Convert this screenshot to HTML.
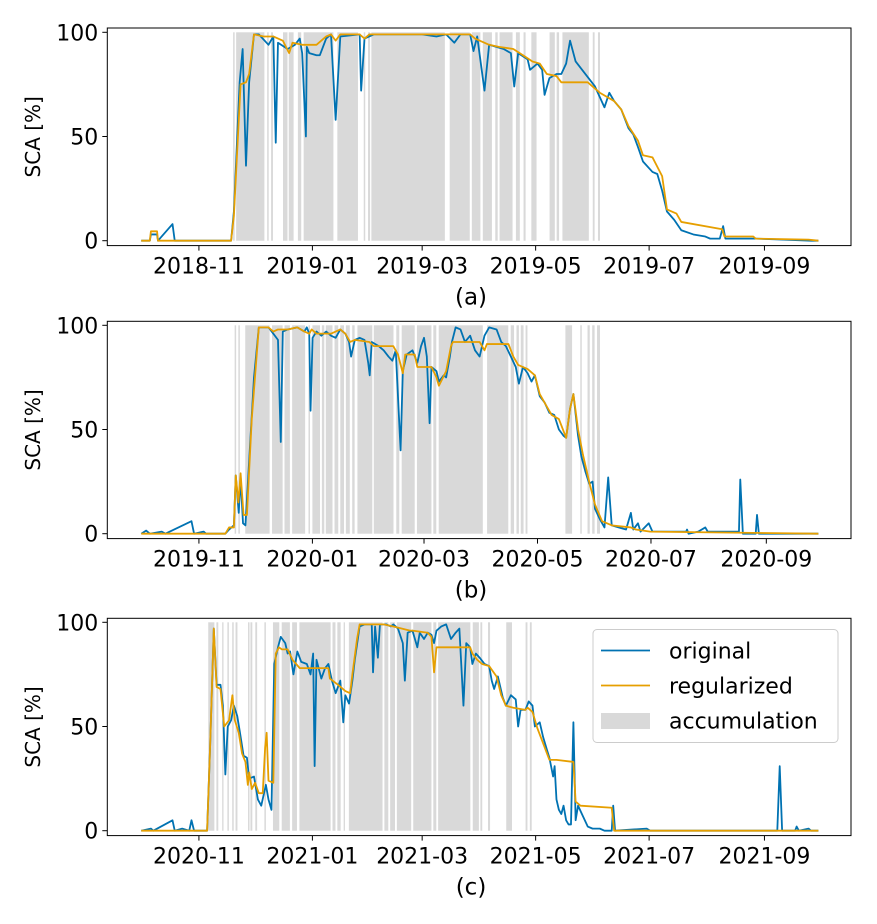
<!DOCTYPE html>
<html><head><meta charset="utf-8">
<style>
html,body{margin:0;padding:0;background:#fff;}
svg{display:block;font-family:"DejaVu Sans","Liberation Sans",sans-serif;}
</style></head>
<body>
<svg id="chart" width="877" height="924" viewBox="0 0 877 924" xmlns="http://www.w3.org/2000/svg"></svg>
<script>
// ---------- data (day offsets from Oct 1 of each season, SCA %) ----------
const seasonStartsA = ["2018-10-01"];
const seasonStartsB = ["2019-10-01"];
const seasonStartsC = ["2020-10-01"];
const panelCaptions = ["(a)","(b)","(c)"];
const yTickValues = [0,50,100];
const xTickMonths = [11,1,3,5,7,9];

const origDaysA = [0,4.6,5.2,8.5,9,16.8,18,48.3,49.8,52.9,54.5,56.3,58,60.6,63.2,68.4,71,72.3,73.5,78.7,82.6,85.2,86.5,88.5,89,90.3,94.2,96,99.4,102,104.5,107,117.4,118.2,120,125,135.5,150.9,158.7,163.9,168.3,171.6,176.8,178.6,180.6,184.5,187,194.8,198.7,200.5,202.6,207.7,209,213,215.5,216.8,219.4,223.2,225.8,228.4,230.5,233.5,238.7,243.9,249,251.6,254.2,258,261.9,264.5,267,269.7,274.8,277.4,280,282.6,286.5,290.3,296.8,303.2,305.8,311,312.8,314,329,330.3,345,360,364];
const origValsA = [0,0,3,3,0,8,0,0,14,76,92,36,76,99,99,94,98,47,95,92,94,97,90,50,93,90,89,89,97,99,58,98,99,72,97,99,99,99,98,99,95,99,99,91,98,72,94,92,90,74,90,87,82,85,82,70,78,80,80,85,96,86,80,74,64,71,67,63,54,51,45,38,33,32,24,14,10,5,3,2,1,1,7,1,1,1,0.5,0,0];
const regDaysA = [0,4.6,5.2,8.5,9,48.3,49.8,53.4,56.3,58,60.6,65.8,71,76.1,79.5,81.3,86.5,94.2,99.4,102,104.5,107,117.4,120,122.6,176.8,179.4,187,192.3,200,205.2,210.3,214.2,218,223.2,225.8,240,246.5,254.2,258,261.9,267,269.7,274.8,280,282.6,287.7,290.3,312.3,313.5,329,330.3,358.7,364];
const regValsA = [0,0,4.5,4.5,0,0,12,75,76,80,99,98,98,96,90,95,94,94,98,99,96,99,99,97,99,99,97,94,93,92,89,86,85,80,79,76,76,71,67,63,55,48,41,40,31,15,13,9,5.5,2,2,1,0.5,0];
const accumA = [[49.4,50.2],[51,66.2],[67.7,68.5],[69.8,70.8],[76.2,78.6],[79.3,81.9],[84.2,86],[87.3,103.3],[105.4,116.5],[119.6,120.4],[121.9,123],[123.7,163.2],[165.8,176.6],[177.7,182.3],[183.6,188.5],[190.3,191.6],[192.6,199.6],[201.4,203.5],[205.5,206.6],[209.7,212.5],[219.5,222.3],[223.3,224.6],[226.4,240.6],[242.7,243.7],[245.5,246.6]];

const origDaysB = [0,2.6,4.6,11,13,27,28.4,33.5,34.8,45.2,47.2,49.8,50.8,52.4,53.4,54.7,56,58,60.6,63.2,68.4,71,73.5,75,76.1,78.7,83.9,87.7,89,90.3,91,92.1,94.2,96.8,99.4,102,104.5,107,109.7,111.7,112.8,114.8,117.4,120,122,122.8,123.9,127.7,130.3,132.9,135,136.8,139.4,140.6,142.7,145.8,148.4,150.4,152,153.5,155,156,158.7,160,162.6,163.9,165.9,167,169,171.6,174,176.8,179.4,181.9,184.5,187,191,193.5,196,198.7,201.3,203,205.2,207.7,209.8,211.6,214.2,216.8,219.4,222,224.5,227,228.4,230.5,232.3,234.8,236.6,238.7,240.8,242.6,243.9,246.5,249,251,252.9,256.8,260.6,263.2,264.5,267,268.4,272.8,274.8,292.9,293.4,294.2,299.4,303.2,304.5,321.3,322,323.4,330.3,331,332,364];
const origValsB = [0,1.5,0,1,0,6,0,1,0,0,2,4,28,10,27,5,4,35,75,99,99,96,93,44,97,98,99,97,99,96,59,94,97,95,97,95,94,98,96,92,85,93,94,93,82,76,92,90,88,85,83,88,40,78,86,88,82,90,94,85,53,80,78,73,76,75,85,92,99,98,92,95,88,85,95,99,98,92,90,85,80,72,80,77,73,76,66,63,58,57,50,47,46,60,67,47,37,30,24,25,12,7,3,27,4,3,2,10,2,5,1,5,1,1,2,0,1,3,1,1,26,0,0,9,0,0];
const regDaysB = [0,45.2,47.2,49.8,50.8,52.2,53.4,55,56.8,59.4,63.2,68.4,71,73.5,78.7,83.9,87.7,90.3,91.6,94.2,102,107,109.7,112.3,114.8,122.6,125,135.5,138,140.6,141.9,147,148.4,156,158.7,160,163.9,166.5,167.5,181.9,184.5,185.8,197.4,200,202.6,207.7,211.6,214.2,218,220.6,224.5,228.4,230.5,232.3,234.8,237.4,241.3,243.9,247.7,252.9,263.2,265.8,273.5,364];
const regValsB = [0,0,3,3,28,15,29,9,9,55,99,99,97,98,98,99,97,96,98,96,96,98,96,92,93,92,90,90,86,77,86,86,80,80,75,71,78,90,92,92,88,91,91,85,81,79,76,67,61,57,55,46,60,67,50,38,23,14,6,4,3,2,1,0];
const accumB = [[50.2,51],[52.2,53],[55.9,69],[70.3,76],[77,79.9],[81.1,88.1],[89.9,90.7],[92,96.1],[97.1,98.4],[99.2,102.8],[103.9,105.9],[107,109],[110,112.1],[113.4,114.7],[116.2,124.2],[125,135.6],[137.1,138.7],[140,147],[148.2,156],[157,158.6],[159.9,183.6],[185.9,197.3],[198.6,200.4],[201.7,203],[204,205.5],[206.6,207.6],[228,231.6],[236,236.8],[239.9,241.1],[242.4,243.7],[245,246.6]];

const origDaysC = [0,5.2,6.5,16.8,18,22,25.8,27,28.4,35.4,37,39,40.5,42.6,43.9,45.2,46.5,48.3,49.8,51.6,52.9,55,56.8,58,60.6,62.7,64.5,67,68.4,70,71.5,73.5,75,77.4,78.7,80,81.8,83.9,86,89,91,92.4,93.2,94.2,96.8,98.8,100.6,102.5,104.5,107,108.6,109.7,111.7,113.5,114.8,117.4,120,123.9,124.6,125.7,127.2,128.3,131.6,134.2,135.5,138,140.6,141.7,143.2,145.8,148.4,149.7,152,154,156,157.4,158.7,161.3,163.9,166.5,169,171,173.2,174.7,176.8,178,179.9,181.9,184.5,187,188.4,189.7,191.7,194.3,196,198.7,201.3,202.6,203.9,206.5,208.3,210.3,211.6,214.2,216,218,219.4,221.4,222.2,223.2,224.5,225.8,227,228.4,229.7,231,232.3,233.5,234.8,237.4,240,242.6,246.5,249,252.9,253.7,254.7,271.7,273.5,341.9,343.2,344.5,351.5,352.3,353.5,358.7,360,364];
const origValsC = [0,1,0,5,0,1,0,5,0,0,40,97,70,70,60,27,50,53,60,55,48,36,35,25,26,15,12,22,15,10,80,88,93,90,85,86,75,86,81,80,75,85,31,82,73,78,80,72,66,72,52,65,61,72,82,98,99,99,76,98,83,99,99,98,99,97,90,72,95,96,88,95,92,95,94,90,96,98,99,92,95,97,60,90,88,80,85,83,80,79,72,68,74,64,60,65,63,50,58,58,62,60,50,52,45,39,35,26,31,15,10,8,12,5,3,3,52,5,12,7,2,1,1,0,0,12,0,1,0,0,31,0,0,2,0,1,0,0];
const regDaysC = [0,35.4,37,39,40.5,42.6,44.6,47.2,49,50.3,52.4,54.2,56,57.3,58,59.4,61.2,63.2,65.3,66.6,67.4,68.4,71,72.3,74,75.6,78.7,81.3,85.2,94.2,100.6,101.4,105.8,109.7,112.3,113.5,116,117.4,125,130.3,135.5,144.5,145.8,154,156,157.4,158.7,176.8,178,180.6,183.2,187,191,193.5,196,200,206.5,207.7,210.3,213,216,219.4,223.2,232.3,233.5,236.1,252.9,254.2,364];
const regValsC = [0,0,40,97,69,68,50,53,65,53,47,37,33,22,28,20,23,18,18,40,47,24,23,85,88,87,87,82,78,78,78,73,70,67,66,75,92,99,99,99,98,96,96,95,93,76,88,88,85,82,80,79,74,65,60,59,58,59,57,49,42,34,34,33,14,12,11,0,0];
const accumC = [[36,39.3],[40.4,41.4],[43.5,44.2],[46.3,47.1],[48.9,49.7],[50.7,51.7],[57.4,58.2],[58.7,59.7],[61.3,62.3],[66.2,67],[70.8,74.2],[75.5,79.9],[81.1,83.7],[85,101.8],[102.8,104.4],[105.4,107.2],[108.8,109.5],[111.6,129.7],[130.7,132.8],[133.8,136.4],[137.4,145.1],[146.2,156],[157,158.6],[159.6,176.9],[178.2,181.5],[182.3,183.3],[186.4,187.5],[196.2,199.3],[206.6,207.6],[208.9,209.9]];

// ---------- drawing ----------
const NS = "http://www.w3.org/2000/svg";
const svg = document.getElementById("chart");
const BLUE = "#0072B2", ORANGE = "#E69F00", GRAY = "#d9d9d9";
const AX_L = 107.3, AX_R = 851, PX_PER_DAY = 1.8603, DAY_OFF = 18.25, UNIT = 2.084;

function mk(tag, attrs, parent){
  const e = document.createElementNS(NS, tag);
  for (const k in attrs) e.setAttribute(k, attrs[k]);
  (parent || svg).appendChild(e);
  return e;
}
function xScale(d){ return AX_L + (d + DAY_OFF) * PX_PER_DAY; }

const panels = [
  {start: seasonStartsA[0], top: 28, zero: 240.7, bottom: 245.6, od: origDaysA, ov: origValsA, rd: regDaysA, rv: regValsA, acc: accumA, id: "a"},
  {start: seasonStartsB[0], top: 321.3, zero: 533.7, bottom: 538.6, od: origDaysB, ov: origValsB, rd: regDaysB, rv: regValsB, acc: accumB, id: "b"},
  {start: seasonStartsC[0], top: 618.3, zero: 830.7, bottom: 835.6, od: origDaysC, ov: origValsC, rd: regDaysC, rv: regValsC, acc: accumC, id: "c"}
];

panels.forEach((p, pi) => {
  const g = mk("g", {});
  
  
  const yScale = v => p.zero - v * UNIT;
  const clipId = "clip" + p.id;
  const cp = mk("clipPath", {id: clipId}, g);
  mk("rect", {x: AX_L, y: p.top, width: AX_R - AX_L, height: p.bottom - p.top}, cp);

  const ag = mk("g", {"clip-path": "url(#" + clipId + ")"}, g);
  
  
  p.acc.forEach(s => {
    const x0 = xScale(s[0]), x1 = xScale(s[1]);
    const r = mk("rect", {x: x0, y: yScale(100), width: Math.max(1.3, x1 - x0), height: yScale(0) - yScale(100), fill: GRAY}, ag);
    
    
  });

  const line = (days, vals, color, name) => {
    const pts = days.map((d, i) => xScale(d).toFixed(2) + "," + yScale(vals[i]).toFixed(2)).join(" ");
    const pl = mk("polyline", {points: pts, fill: "none", stroke: color, "stroke-width": 1.8, "stroke-linejoin": "round", "clip-path": "url(#" + clipId + ")"}, g);
    
    
  };
  line(p.od, p.ov, BLUE, "original-line");
  line(p.rd, p.rv, ORANGE, "regularized-line");

  const fr = mk("rect", {x: AX_L, y: p.top, width: AX_R - AX_L, height: p.bottom - p.top, fill: "none", stroke: "#000", "stroke-width": 1}, g);
  
  

  yTickValues.forEach(v => {
    const y = yScale(v);
    mk("line", {x1: AX_L - 5, x2: AX_L, y1: y, y2: y, stroke: "#000", "stroke-width": 1}, g);
    const t = mk("text", {x: AX_L - 9, y: y + 8, "text-anchor": "end", "font-size": 22, fill: "#000"}, g);
    t.textContent = v;
    
    
  });
  const yt = mk("text", {x: 0, y: 0, "text-anchor": "middle", "font-size": 20, fill: "#000",
    transform: "translate(40," + ((p.top + p.bottom) / 2) + ") rotate(-90)"}, g);
  yt.textContent = "SCA [%]";
  
  

  const s = new Date(p.start + "T00:00:00Z");
  xTickMonths.forEach(m => {
    const yr = m >= 10 ? s.getUTCFullYear() : s.getUTCFullYear() + 1;
    const dt = Date.UTC(yr, m - 1, 1);
    const d = (dt - s.getTime()) / 86400000;
    const x = xScale(d);
    mk("line", {x1: x, x2: x, y1: p.bottom, y2: p.bottom + 5, stroke: "#000", "stroke-width": 1}, g);
    const t = mk("text", {x: x, y: p.bottom + 28, "text-anchor": "middle", "font-size": 22, fill: "#000"}, g);
    t.textContent = yr + "-" + String(m).padStart(2, "0");
    
    
  });
  const cap = mk("text", {x: 471, y: p.bottom + 59, "text-anchor": "middle", "font-size": 23, fill: "#000"}, g);
  cap.textContent = panelCaptions[pi];
  
  
});

const lg = mk("g", {});


mk("rect", {x: 593, y: 629.5, width: 245, height: 113, rx: 4, fill: "#fff", "fill-opacity": 0.85, stroke: "#ccc", "stroke-width": 1}, lg);
const legendItems = [["original", BLUE, "line"], ["regularized", ORANGE, "line"], ["accumulation", GRAY, "patch"]];
legendItems.forEach((it, i) => {
  const y = 650.5 + i * 35;
  const e = mk("g", {}, lg);
  
  
  if (it[2] === "line") mk("line", {x1: 601, x2: 650, y1: y, y2: y, stroke: it[1], "stroke-width": 1.8}, e);
  else mk("rect", {x: 601, y: y - 7.5, width: 49, height: 16, fill: it[1]}, e);
  const t = mk("text", {x: 669, y: y + 8, "font-size": 22, fill: "#000"}, e);
  t.textContent = it[0];
});
</script>
</body></html>
